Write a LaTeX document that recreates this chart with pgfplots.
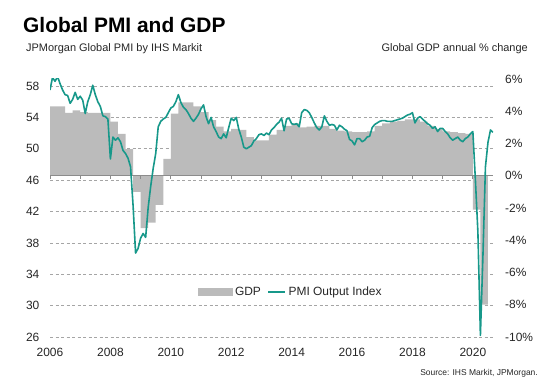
\documentclass[border=0pt]{standalone}
\usepackage{pgfplots}
\pgfplotsset{compat=1.18}
\usepackage{pgfplotstable}
\usepackage{fontspec}
\setmainfont{Liberation Sans}
\setsansfont{Liberation Sans}

\definecolor{pmiteal}{RGB}{23,152,138}
\definecolor{gdpgray}{RGB}{187,187,187}
\definecolor{gridgray}{RGB}{165,165,165}
\definecolor{axisgray}{RGB}{140,140,140}
\definecolor{txt}{RGB}{38,38,38}

% PMI: month index from Jan 2006 (m=0)
\pgfplotstableread{
m pmi
0 57.5
1 59.1
2 58.6
3 59.2
4 58.3
5 57.5
6 56.9
7 56.8
8 55.8
9 56.3
10 57.2
11 56.3
12 56.7
13 56.2
14 54.5
15 56.0
16 56.9
17 58.1
18 56.9
19 56.0
20 55.4
21 54.2
22 54.1
23 53.8
24 48.7
25 51.5
26 51.1
27 51.4
28 50.9
29 49.8
30 49.4
31 48.8
32 47.7
33 42.8
34 36.7
35 37.3
36 38.6
37 39.2
38 38.7
39 42.5
40 45.2
41 47.5
42 49.4
43 52.8
44 53.5
45 53.8
46 54.0
47 54.6
48 55.2
49 55.4
50 56.0
51 56.9
52 55.9
53 55.3
54 55.0
55 54.5
56 53.9
57 53.5
58 53.9
59 54.4
60 55.1
61 55.6
62 54.1
63 53.2
64 54.0
65 52.8
66 52.2
67 51.5
68 51.3
69 51.9
70 51.4
71 52.7
72 53.9
73 53.6
74 54.0
75 52.5
76 51.5
77 50.2
78 50.0
79 50.2
80 50.4
81 51.0
82 51.3
83 51.8
84 51.9
85 51.7
86 52.0
87 51.8
88 52.4
89 52.7
90 53.1
91 53.4
92 53.9
93 52.3
94 53.8
95 53.9
96 53.2
97 53.1
98 53.2
99 52.8
100 54.6
101 55.0
102 54.9
103 54.6
104 54.0
105 53.3
106 52.7
107 52.4
108 52.8
109 54.2
110 53.5
111 53.0
112 53.1
113 53.0
114 52.4
115 53.0
116 52.8
117 52.5
118 52.3
119 51.2
120 51.0
121 50.5
122 51.3
123 51.3
124 50.9
125 51.1
126 51.5
127 51.6
128 52.7
129 53.1
130 53.3
131 53.5
132 53.6
133 53.6
134 53.5
135 53.5
136 53.5
137 53.6
138 53.7
139 53.8
140 53.9
141 54.1
142 54.3
143 54.4
144 54.6
145 53.3
146 53.9
147 54.1
148 53.8
149 53.5
150 53.2
151 53.0
152 52.6
153 52.8
154 52.2
155 52.6
156 52.6
157 52.2
158 51.9
159 51.4
160 51.1
161 51.3
162 51.5
163 51.1
164 50.9
165 51.3
166 51.5
167 51.9
168 52.2
169 46.1
170 39.4
171 26.2
172 36.3
173 47.7
174 50.8
175 52.4
176 52.1
}\pmidata

% GDP: quarterly, start month index, annual % change
\pgfplotstableread{
m gdp
0 4.3
3 4.3
6 3.9
9 4.05
12 3.95
15 3.9
18 3.9
21 3.9
24 3.35
27 2.6
30 1.65
33 -1.0
36 -3.25
39 -2.9
42 -1.8
45 1.05
48 3.85
51 4.55
54 4.55
57 4.3
60 3.95
63 3.45
66 3.05
69 2.75
72 2.9
75 2.85
78 2.4
81 2.2
84 2.2
87 2.55
90 2.85
93 3.1
96 3.25
99 3.0
102 3.05
105 3.1
108 3.1
111 2.9
114 2.8
117 2.75
120 2.7
123 2.7
126 2.75
129 3.1
132 3.25
135 3.35
138 3.4
141 3.5
144 3.5
147 3.35
150 3.1
153 2.9
156 2.75
159 2.7
162 2.65
165 2.6
168 -2.1
171 -8.0
174 -8.0
}\gdpdata

\pgfplotsset{
  base/.style={
    scale only axis,
    width=443bp, height=258bp,
    at={(0,0)}, anchor=south west,
    xmin=2006, xmax=2020.667,
    major tick length=0pt,
    tick label style={font=\fontsize{12}{14}\selectfont, text=txt},
  }
}

\begin{document}
\begin{tikzpicture}
\useasboundingbox (-50bp,-55bp) rectangle (504bp,337bp);

% Axis 1: grid, left labels, x labels
\begin{axis}[base,
  ymin=26, ymax=58.9,
  ytick={26,30,34,38,42,46,50,54,58},
  yticklabels={26,30,34,38,42,46,50,54,58},
  xtick={2006,2008,2010,2012,2014,2016,2018,2020},
  xticklabels={2006,2008,2010,2012,2014,2016,2018,2020},
  ymajorgrids,
  grid style={gridgray, line width=0.75bp, dash pattern=on 3bp off 2.5bp},
  axis line style={draw=none},
  yticklabel style={anchor=east, inner sep=0pt, xshift=-10.5bp},
  xticklabel style={anchor=north, inner sep=0pt, yshift=-11bp},
]
\addplot[draw=none] coordinates {(2006,40) (2020,40)};
\end{axis}

% Axis 2: GDP on right
\begin{axis}[base,
  ymin=-10, ymax=6,
  axis y line*=right, axis x line=none,
  y axis line style={draw=none},
  ytick={-10,-8,-6,-4,-2,0,2,4,6},
  yticklabels={-10\%,-8\%,-6\%,-4\%,-2\%,0\%,2\%,4\%,6\%},
  yticklabel style={anchor=west, inner sep=0pt, xshift=12bp},
]
\addplot[const plot, fill=gdpgray, draw=none]
  table[x expr=2006+\thisrow{m}/12, y=gdp] {\gdpdata} \closedcycle;
\draw[axisgray, line width=0.9bp] (axis cs:2006,0) -- (axis cs:2020.667,0);
\pgfplotsinvokeforeach{2006,2007,2008,2009,2010,2011,2012,2013,2014,2015,2016,2017,2018,2019,2020}{
  \draw[axisgray, line width=0.75bp] (axis cs:#1,0) -- ([yshift=-3bp]axis cs:#1,0);
}
\end{axis}

% Axis 3: PMI line + legend
\begin{axis}[base,
  ymin=26, ymax=58.9,
  hide axis,
  legend columns=2,
  legend style={at={(0.334,0.174)}, anchor=west, draw=none, fill=none,
    inner sep=0pt, font=\fontsize{12}{14}\selectfont, text=txt,
    nodes={inner sep=2.5bp},
    /tikz/every even column/.append style={column sep=4bp}},
]
\addlegendimage{legend image code/.code={\fill[gdpgray] (0bp,-3.5bp) rectangle (34bp,3.5bp);}}
\addlegendentry{GDP}
\addplot[pmiteal, line width=1.6bp, line join=round]
  table[x expr=2006+\thisrow{m}/12, y=pmi] {\pmidata};
\addlegendentry{PMI Output Index}
\end{axis}

% titles
\node[anchor=base west, inner sep=0pt, font=\bfseries\fontsize{21}{24}\selectfont] at (-27bp,304bp) {Global PMI and GDP};
\node[anchor=base west, inner sep=0pt, font=\fontsize{11}{13}\selectfont, text=txt] at (-24bp,285bp) {JPMorgan Global PMI by IHS Markit};
\node[anchor=base east, inner sep=0pt, font=\fontsize{11}{13}\selectfont, text=txt] at (478bp,285bp) {Global GDP annual \% change};
\node[anchor=base east, inner sep=0pt, font=\fontsize{8.5}{10}\selectfont, text=txt] at (488bp,-38bp) {Source: IHS Markit, JPMorgan.};
\end{tikzpicture}
\end{document}
